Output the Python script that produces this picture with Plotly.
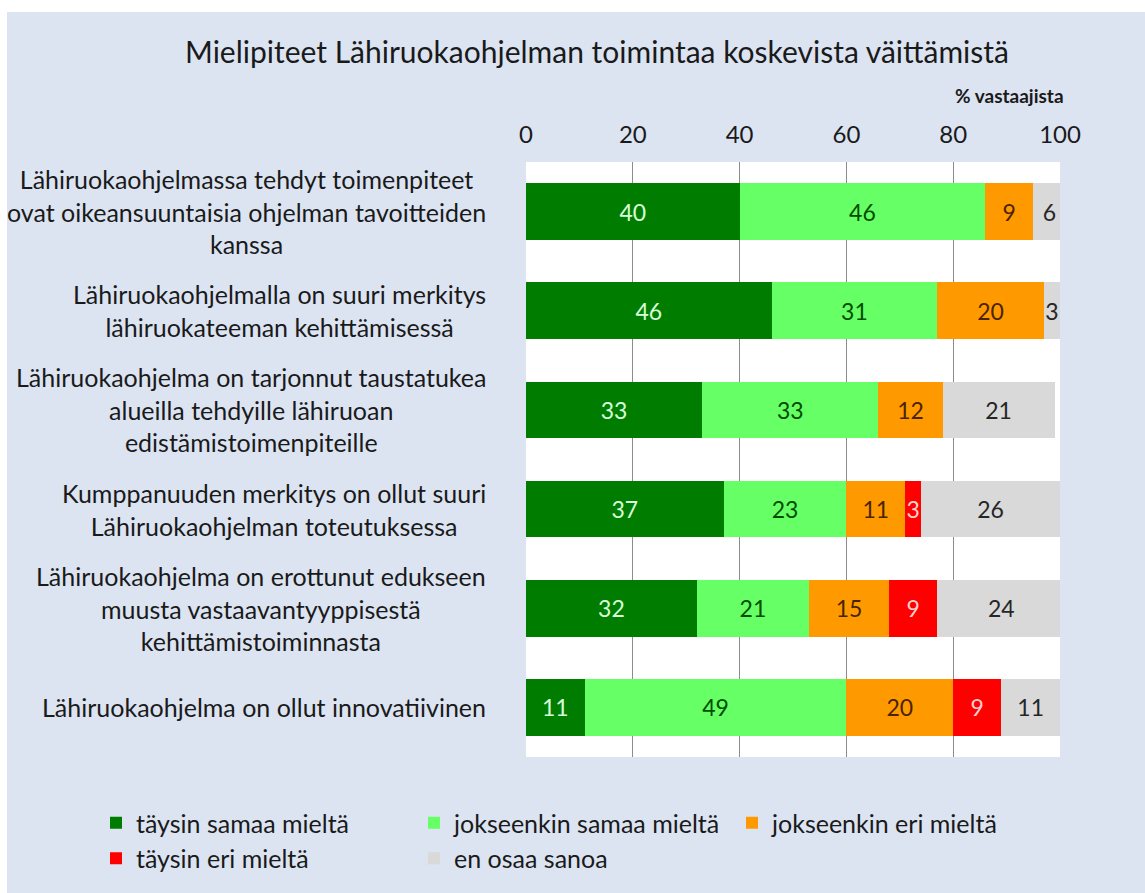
import plotly.graph_objects as go

categories = [
    "Lähiruokaohjelmassa tehdyt toimenpiteet<br>ovat oikeansuuntaisia ohjelman tavoitteiden<br>kanssa",
    "Lähiruokaohjelmalla on suuri merkitys<br>lähiruokateeman kehittämisessä",
    "Lähiruokaohjelma on tarjonnut taustatukea<br>alueilla tehdyille lähiruoan<br>edistämistoimenpiteille",
    "Kumppanuuden merkitys on ollut suuri<br>Lähiruokaohjelman toteutuksessa",
    "Lähiruokaohjelma on erottunut edukseen<br>muusta vastaavantyyppisestä<br>kehittämistoiminnasta",
    "Lähiruokaohjelma on ollut innovatiivinen",
]
series_names = ["täysin samaa mieltä", "jokseenkin samaa mieltä", "jokseenkin eri mieltä",
                "täysin eri mieltä", "en osaa sanoa"]
taysin_samaa = [40, 46, 33, 37, 32, 11]
jokseenkin_samaa = [46, 31, 33, 23, 21, 49]
jokseenkin_eri = [9, 20, 12, 11, 15, 20]
taysin_eri = [0, 0, 0, 3, 9, 9]
en_osaa = [6, 3, 21, 26, 24, 11]
series_values = [taysin_samaa, jokseenkin_samaa, jokseenkin_eri, taysin_eri, en_osaa]
x_ticks = [0, 20, 40, 60, 80, 100]

bar_colors = ["#007d00", "#66ff66", "#ff9900", "#ff0000", "#d9d9d9"]
label_colors = ["#d8ffd8", "#004d00", "#4a2400", "#ffd0d0", "#262626"]

FONT = "Lato"
fig = go.Figure()
for name, vals, col, lcol in zip(series_names, series_values, bar_colors, label_colors):
    fig.add_trace(go.Bar(
        y=categories, x=vals, name=name, orientation="h",
        marker=dict(color=col, line=dict(width=0)),
        text=[str(v) if v else "" for v in vals],
        textposition="inside", insidetextanchor="middle", textangle=0,
        constraintext="none",
        textfont=dict(family=FONT, size=23, color=lcol),
        hoverinfo="x+name",
    ))

annotations = []
for c in categories:
    annotations.append(dict(
        x=0, xref="paper", y=c, yref="y", xanchor="right", yanchor="middle",
        xshift=-38, align="center", showarrow=False, text=c,
        font=dict(family=FONT, size=25, color="#1a1a1a"),
    ))

W, H = 1145, 893
L, R, T, B = 526, 85, 162, 136
pw, ph = W - L - R, H - T - B

def px_x(px):
    return (px - L) / pw

def px_y(py):
    return 1 - (py - T) / ph

annotations.append(dict(
    x=px_x(1066), xref="paper", y=px_y(96), yref="paper", xanchor="right", yanchor="middle",
    showarrow=False, text="<b>% vastaajista</b>",
    font=dict(family=FONT, size=19, color="#1a1a1a"),
))

shapes = [
    dict(type="rect", xref="paper", yref="paper", x0=px_x(-2), x1=px_x(W + 2),
         y0=px_y(12), y1=px_y(-2), fillcolor="white", line=dict(width=0), layer="above"),
    dict(type="rect", xref="paper", yref="paper", x0=px_x(-2), x1=px_x(7),
         y0=px_y(H + 2), y1=px_y(-2), fillcolor="white", line=dict(width=0), layer="above"),
]

fig.update_layout(
    width=W, height=H,
    barmode="stack", bargap=0.43,
    paper_bgcolor="#dce4f2", plot_bgcolor="white",
    margin=dict(l=L, r=R, t=T, b=B, autoexpand=False),
    font=dict(family=FONT, size=22, color="#1a1a1a"),
    title=dict(text="Mielipiteet Lähiruokaohjelman toimintaa koskevista väittämistä",
               x=px_x(597), xref="paper", xanchor="center",
               y=1 - 52 / H, yref="container", yanchor="middle",
               font=dict(family=FONT, size=30, color="#1a1a1a")),
    xaxis=dict(range=[0, 100], side="top", tickvals=x_ticks,
               ticktext=[str(t) for t in x_ticks],
               showgrid=True, gridcolor="#8c8c8c", gridwidth=1,
               zeroline=False, showline=False, ticks="",
               ticklabelstandoff=13,
               tickfont=dict(family=FONT, size=24, color="#1a1a1a"),
               fixedrange=True),
    yaxis=dict(autorange="reversed", showticklabels=False, showgrid=False,
               zeroline=False, showline=False, ticks="", fixedrange=True),
    legend=dict(orientation="h", x=px_x(96), xanchor="left", y=px_y(800), yanchor="top",
                entrywidth=273, traceorder="normal",
                font=dict(family=FONT, size=25, color="#1a1a1a"),
                bgcolor="rgba(0,0,0,0)", itemwidth=30),
    annotations=annotations,
    shapes=shapes,
    showlegend=True,
)

fig.write_html("out.html", config={"displayModeBar": False},
               post_script="document.body.style.margin='0';")
